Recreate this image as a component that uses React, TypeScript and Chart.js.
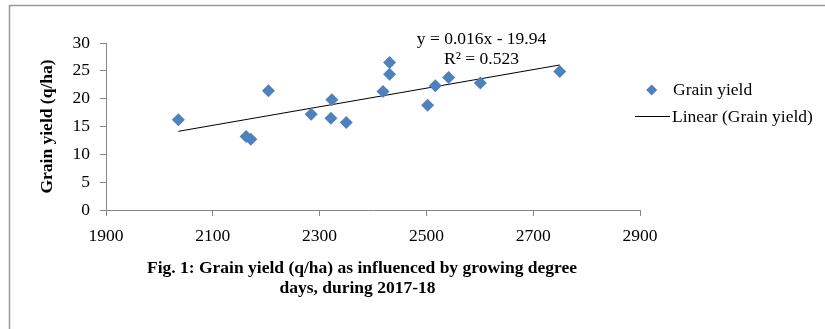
import React, { useEffect, useRef } from "react";
import { Chart, registerables } from "chart.js";

Chart.register(...registerables);

// ---- data ----
const gddValues = [2035.5, 2162.4, 2171.2, 2204.2, 2284.3, 2323, 2321.2, 2349.9, 2418.7, 2431, 2431, 2502.3, 2516.7, 2541.6, 2601, 2749.7];
const yieldValues = [16.2, 13.2, 12.7, 21.4, 17.2, 19.8, 16.5, 15.7, 21.3, 26.5, 24.4, 18.8, 22.3, 23.8, 22.8, 24.9];
const xTicks = [1900, 2100, 2300, 2500, 2700, 2900];
const yTicks = [0, 5, 10, 15, 20, 25, 30];
const seriesLabel = "Grain yield";
const trendLabel = "Linear (Grain yield)";
const equationLines = ["y = 0.016x - 19.94", "R\u00B2 = 0.523"];
const captionLines = [
  "Fig. 1: Grain yield (q/ha) as influenced by growing degree",
  "days, during 2017-18",
];
const yTitle = "Grain yield (q/ha)";

const FONT = "'Liberation Serif', 'Times New Roman', serif";
const FS = 17.5;
const BLUE = "#4F81BD";
const AXIS = "#868686";

function linearFit(xs: number[], ys: number[]) {
  const n = xs.length;
  const mx = xs.reduce((a, b) => a + b, 0) / n;
  const my = ys.reduce((a, b) => a + b, 0) / n;
  let sxy = 0;
  let sxx = 0;
  for (let i = 0; i < n; i++) {
    sxy += (xs[i] - mx) * (ys[i] - my);
    sxx += (xs[i] - mx) * (xs[i] - mx);
  }
  const slope = sxy / sxx;
  return { slope, intercept: my - slope * mx };
}

const overlayPlugin = {
  id: "overlay",
  afterDraw(chart: any) {
    const ctx = chart.ctx as CanvasRenderingContext2D;
    ctx.save();
    // frame
    ctx.strokeStyle = "#9a9a9a";
    ctx.lineWidth = 1.5;
    ctx.beginPath();
    ctx.moveTo(9.5, 329);
    ctx.lineTo(9.5, 5.5);
    ctx.lineTo(825, 5.5);
    ctx.stroke();

    ctx.fillStyle = "#000";
    ctx.textBaseline = "middle";
    // trendline equation
    ctx.font = `${FS}px ${FONT}`;
    ctx.textAlign = "center";
    ctx.fillText(equationLines[0], 481.5, 39);
    ctx.fillText(equationLines[1], 481.5, 59.5);

    // legend
    ctx.fillStyle = BLUE;
    ctx.beginPath();
    const cx = 651.7, cy = 90, r = 5.5;
    ctx.moveTo(cx, cy - r);
    ctx.lineTo(cx + r, cy);
    ctx.lineTo(cx, cy + r);
    ctx.lineTo(cx - r, cy);
    ctx.closePath();
    ctx.fill();
    ctx.strokeStyle = "#000";
    ctx.lineWidth = 1;
    ctx.beginPath();
    ctx.moveTo(635, 116.5);
    ctx.lineTo(670, 116.5);
    ctx.stroke();
    ctx.fillStyle = "#000";
    ctx.textAlign = "left";
    ctx.fillText(seriesLabel, 673, 90);
    ctx.fillText(trendLabel, 672, 117);

    // caption
    ctx.font = `bold ${FS}px ${FONT}`;
    ctx.textAlign = "center";
    ctx.fillText(captionLines[0], 362, 268);
    ctx.fillText(captionLines[1], 357.5, 288);
    ctx.restore();
  },
};

export default function App() {
  const ref = useRef<HTMLCanvasElement | null>(null);

  useEffect(() => {
    if (!ref.current) return;
    const points = gddValues.map((x, i) => ({ x, y: yieldValues[i] }));
    const { slope, intercept } = linearFit(gddValues, yieldValues);
    const xmin = Math.min(...gddValues);
    const xmax = Math.max(...gddValues);
    const trend = [
      { x: xmin, y: intercept + slope * xmin },
      { x: xmax, y: intercept + slope * xmax },
    ];

    const chart = new Chart(ref.current, {
      type: "scatter",
      data: {
        datasets: [
          {
            type: "line",
            label: trendLabel,
            data: trend,
            borderColor: "#000",
            borderWidth: 1,
            pointRadius: 0,
            fill: false,
            order: 1,
          } as any,
          {
            label: seriesLabel,
            data: points,
            pointStyle: "rectRot",
            pointRadius: 6.5,
            backgroundColor: BLUE,
            borderColor: BLUE,
            borderWidth: 0,
            order: 0,
          },
        ],
      },
      options: {
        animation: false,
        responsive: false,
        maintainAspectRatio: false,
        layout: { padding: { top: 43, right: 185, bottom: 0, left: 0 } },
        plugins: { legend: { display: false }, tooltip: { enabled: false } },
        scales: {
          x: {
            type: "linear",
            min: 1900,
            max: 2900,
            afterBuildTicks: (s: any) => {
              s.ticks = xTicks.map((v) => ({ value: v }));
            },
            afterFit: (s: any) => {
              s.height = 119;
            },
            grid: { drawOnChartArea: false, drawTicks: true, tickLength: 6, color: AXIS },
            border: { display: true, color: AXIS, width: 1 },
            ticks: {
              font: { family: FONT, size: FS },
              color: "#000",
              padding: 10,
              maxRotation: 0,
              callback: (v: any) => String(v),
            },
          },
          y: {
            type: "linear",
            min: 0,
            max: 30,
            afterBuildTicks: (s: any) => {
              s.ticks = yTicks.map((v) => ({ value: v }));
            },
            afterFit: (s: any) => {
              s.width = 106;
            },
            grid: { drawOnChartArea: false, drawTicks: true, tickLength: 6, color: AXIS },
            border: { display: true, color: AXIS, width: 1 },
            ticks: {
              font: { family: FONT, size: FS },
              color: "#000",
              padding: 10,
              callback: (v: any) => String(v),
            },
            title: {
              display: true,
              text: yTitle,
              font: { family: FONT, size: FS, weight: "bold" },
              color: "#000",
              padding: { top: 37, bottom: 0 },
            },
          },
        },
      },
      plugins: [overlayPlugin],
    } as any);
    return () => chart.destroy();
  }, []);

  return (
    <div style={{ position: "absolute", left: 0, top: 0, width: 825, height: 329, background: "#fff" }}>
      <canvas ref={ref} width={825} height={329} style={{ display: "block", width: 825, height: 329 }} />
    </div>
  );
}
